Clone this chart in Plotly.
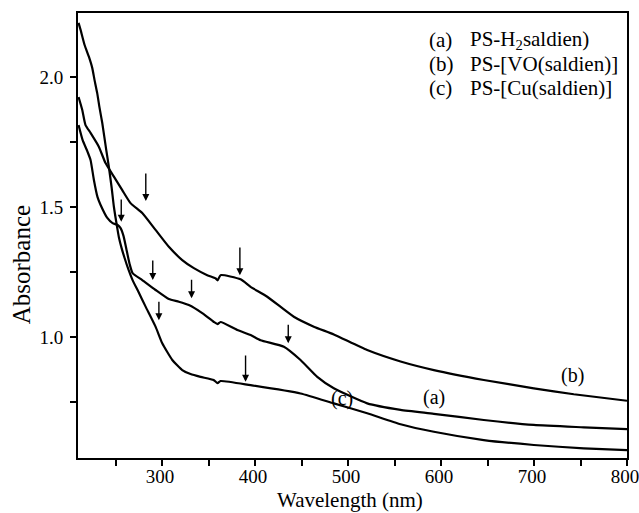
import plotly.graph_objects as go

# Curve (a) PS-H2saldien  (middle curve at long wavelengths)
wl_a = [210.2, 214.5, 219.9, 223.1, 226.7, 230.6, 233.9, 241.1, 246.8, 252.2, 255.4, 258.6, 261.8, 265.1,
        268.3, 278.7, 293.0, 307.3, 318.1, 328.8, 343.2, 355.7, 359.7, 362.9, 380.9, 395.2, 405.9, 431.0,
        448.9, 466.9, 484.7, 520.6, 556.5, 592.3, 646.0, 699.8, 753.5, 800.0]
abs_a = [1.815, 1.758, 1.712, 1.681, 1.604, 1.538, 1.508, 1.458, 1.438, 1.431, 1.419, 1.388, 1.335, 1.281,
         1.246, 1.219, 1.181, 1.146, 1.136, 1.123, 1.092, 1.058, 1.050, 1.058, 1.027, 1.008, 0.988, 0.963,
         0.912, 0.847, 0.803, 0.745, 0.720, 0.705, 0.681, 0.662, 0.653, 0.646]

# Curve (b) PS-[VO(saldien)]  (top curve)
wl_b = [210.2, 214.2, 217.7, 223.1, 232.0, 239.2, 248.2, 257.2, 266.1, 278.7, 293.0, 307.3, 321.7, 334.2,
        348.6, 357.5, 359.7, 362.9, 384.4, 395.2, 413.1, 441.7, 463.2, 484.7, 520.6, 556.5, 592.3, 646.0,
        699.8, 742.8, 800.0]
abs_b = [1.923, 1.873, 1.815, 1.785, 1.732, 1.669, 1.617, 1.565, 1.515, 1.477, 1.412, 1.347, 1.296, 1.265,
         1.238, 1.226, 1.218, 1.238, 1.222, 1.193, 1.155, 1.078, 1.040, 1.010, 0.950, 0.906, 0.873, 0.835,
         0.803, 0.780, 0.755]

# Curve (c) PS-[Cu(saldien)]  (bottom curve)
wl_c = [210.2, 212.4, 216.7, 221.3, 224.9, 227.4, 230.3, 232.8, 235.7, 240.0, 242.8, 245.7, 248.2, 251.1,
        253.5, 256.5, 259.7, 264.0, 268.3, 274.7, 282.3, 293.0, 300.2, 311.0, 321.7, 330.6, 341.4, 355.4,
        359.7, 362.9, 395.2, 448.9, 484.7, 520.6, 556.5, 592.3, 646.0, 699.8, 753.5, 800.0]
abs_c = [2.208, 2.181, 2.123, 2.078, 2.035, 1.988, 1.937, 1.881, 1.823, 1.719, 1.654, 1.577, 1.501, 1.435,
         1.385, 1.342, 1.304, 1.258, 1.219, 1.173, 1.117, 1.040, 0.976, 0.912, 0.873, 0.858, 0.847, 0.835,
         0.823, 0.831, 0.815, 0.783, 0.745, 0.707, 0.665, 0.636, 0.604, 0.585, 0.572, 0.565]

# Arrows marking bands: wavelength, tail absorbance, tip absorbance
arrow_wl = [282.5, 256.1, 290.0, 331.7, 296.6, 383.7, 435.7, 389.8]
arrow_tail = [1.635, 1.535, 1.300, 1.226, 1.142, 1.350, 1.053, 0.935]
arrow_tip = [1.523, 1.443, 1.219, 1.149, 1.065, 1.238, 0.976, 0.828]

# Curve labels
curve_labels = ["(a)", "(b)", "(c)"]
label_wl = [592.3, 741.0, 494.0]
label_abs = [0.769, 0.854, 0.762]

legend_keys = ["(a)", "(b)", "(c)"]
legend_names = ["PS-H<sub>2</sub>saldien)", "PS-[VO(saldien)]", "PS-[Cu(saldien)]"]

FONT = "Liberation Serif, Times New Roman, serif"

fig = go.Figure()
for wl, ab, nm in [(wl_a, abs_a, "a"), (wl_b, abs_b, "b"), (wl_c, abs_c, "c")]:
    fig.add_trace(go.Scatter(x=wl, y=ab, mode="lines", name=nm,
                             line=dict(color="black", width=2.2, shape="spline", smoothing=0.5),
                             showlegend=False))

annotations = []
for x, t0, t1 in zip(arrow_wl, arrow_tail, arrow_tip):
    annotations.append(dict(x=x, y=t1, ax=x, ay=t0, xref="x", yref="y", axref="x", ayref="y",
                            text="", showarrow=True, arrowhead=2, arrowsize=1.0, arrowwidth=1.4,
                            arrowcolor="black"))
for t, x, y in zip(curve_labels, label_wl, label_abs):
    annotations.append(dict(x=x, y=y, xref="x", yref="y", text=t, showarrow=False,
                            font=dict(family=FONT, size=20, color="black")))
leg_y = [0.939, 0.886, 0.832]
for k, n, y in zip(legend_keys, legend_names, leg_y):
    annotations.append(dict(x=0.636, y=y, xref="paper", yref="paper", text=k, showarrow=False,
                            xanchor="left", yanchor="middle",
                            font=dict(family=FONT, size=21, color="black")))
    annotations.append(dict(x=0.711, y=y, xref="paper", yref="paper", text=n, showarrow=False,
                            xanchor="left", yanchor="middle",
                            font=dict(family=FONT, size=21, color="black")))
annotations.append(dict(x=-0.103, y=0.434, xref="paper", yref="paper", text="Absorbance",
                        textangle=-90, showarrow=False, xanchor="center", yanchor="middle",
                        font=dict(family=FONT, size=25, color="black")))
annotations.append(dict(x=0.496, y=-0.094, xref="paper", yref="paper", text="Wavelength (nm)",
                        showarrow=False, xanchor="center", yanchor="middle",
                        font=dict(family=FONT, size=21, color="black")))

fig.update_layout(
    width=639, height=513,
    margin=dict(l=78, r=12, t=13, b=55),
    paper_bgcolor="white", plot_bgcolor="white",
    font=dict(family=FONT, color="black"),
    annotations=annotations,
)
fig.update_xaxes(range=[209.6, 800], showgrid=False, zeroline=False, automargin=False,
                 showline=True, linecolor="black", linewidth=1.8, mirror=True,
                 ticks="outside", ticklen=6, tickwidth=1.5, tickcolor="black", ticklabeloverflow="allow",
                 ticklabelstandoff=-6, ticklabelshift=-2,
                 tick0=0, dtick=100, tickfont=dict(family=FONT, size=19, color="black"),
                 minor=dict(ticks="outside", ticklen=6, tickwidth=1.5, tickcolor="black", dtick=50, tick0=0))
fig.update_yaxes(range=[0.535, 2.246], showgrid=False, zeroline=False, automargin=False,
                 showline=True, linecolor="black", linewidth=1.8, mirror=True,
                 ticks="outside", ticklen=6, tickwidth=1.5, tickcolor="black",
                 ticklabelstandoff=3,
                 tick0=0, dtick=0.5, tickformat=".1f", tickfont=dict(family=FONT, size=19, color="black"),
                 minor=dict(ticks="outside", ticklen=6, tickwidth=1.5, tickcolor="black", dtick=0.25, tick0=0))

fig.write_html("out.html")
